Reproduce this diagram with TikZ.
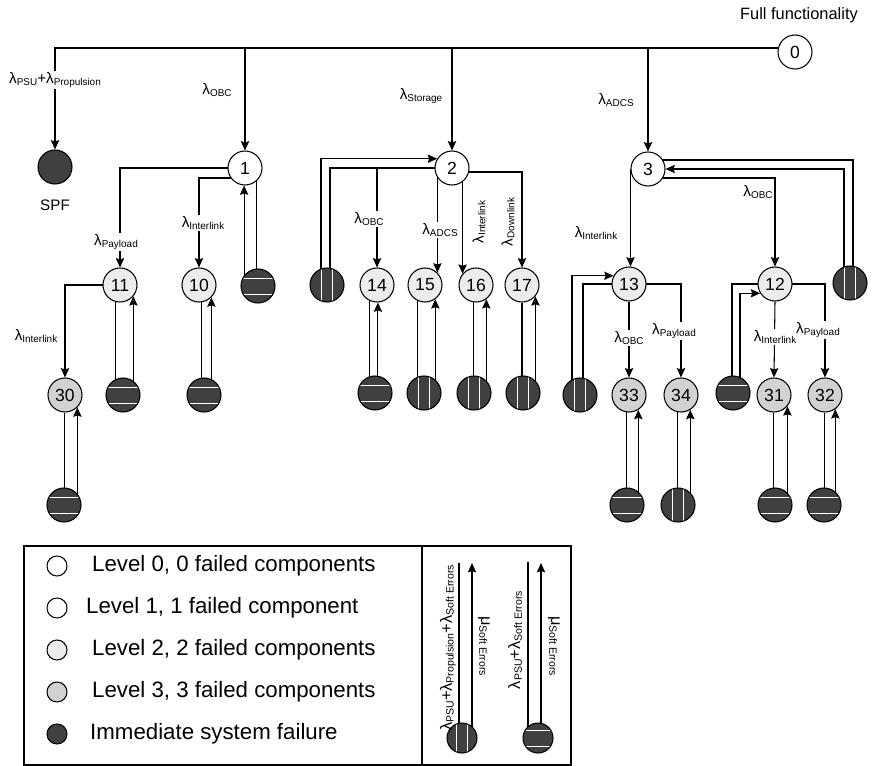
\documentclass[tikz,border=0pt]{standalone}
\usepackage{fontspec}
\setmainfont{Liberation Sans}
\usetikzlibrary{arrows.meta,calc,backgrounds}

\newcommand{\lbd}[2][8.5]{λ\raisebox{-1.5pt}{\fontsize{#1}{#1}\selectfont #2}}
\newcommand{\mub}[2][9]{μ\raisebox{-1.5pt}{\fontsize{#1}{#1}\selectfont #2}}
% failure node below a state: plain line down, repair arrow up
\newcommand{\repair}[4]{%
  \draw[conn] (#1.#3) -- (#1.#3 |- #2.center);
  \draw[arr] (#1.#4 |- #2.center) -- (#1.#4);}

\tikzset{
  stnode/.style={circle, draw, line width=0.9pt, minimum size=1.02cm, inner sep=0pt,
    font=\fontsize{15}{15}\selectfont},
  lvl0/.style={stnode, fill=white},
  lvl2/.style={stnode, fill=gray!15},
  lvl3/.style={stnode, fill=gray!35},
  fail/.style={stnode, fill=black!75},
  hfail/.style={fail, path picture={
    \draw[white, line width=0.8pt]
      ([yshift=2.4mm]path picture bounding box.west) -- ([yshift=2.4mm]path picture bounding box.east)
      ([yshift=-2.4mm]path picture bounding box.west) -- ([yshift=-2.4mm]path picture bounding box.east);}},
  vfail/.style={fail, path picture={
    \draw[white, line width=0.8pt]
      ([xshift=-1.6mm]path picture bounding box.north) -- ([xshift=-1.6mm]path picture bounding box.south)
      ([xshift=1.6mm]path picture bounding box.north) -- ([xshift=1.6mm]path picture bounding box.south);}},
  conn/.style={line width=0.9pt},
  arr/.style={conn, -{Stealth[length=2.8mm, width=2.5mm, inset=0.4mm]}},
  lbl/.style={font=\fontsize{13}{13}\selectfont, inner sep=1pt},
  onlbl/.style={lbl, fill=white},
  leg/.style={font=\fontsize{19}{19}\selectfont, anchor=west, inner sep=0pt}
}

\begin{document}
\begin{tikzpicture}[x=0.03cm, y=-0.03cm]
  \useasboundingbox (0,0) rectangle (873,766);

  % Top states
  \node[lvl0] (n0) at (795,52) {0};
  \node[font=\fontsize{14}{14}\selectfont] (full) at (799,15) {Full functionality};
  \node[fail] (spf) at (55,167) {};
  \node[font=\fontsize{13}{13}\selectfont] (spft) at (55,205) {SPF};
  \node[lvl0] (n1) at (245,168) {1};
  \node[lvl0] (n2) at (452,168) {2};
  \node[lvl0] (n3) at (648,169) {3};
  \coordinate (bus) at ($(n0.center)+(0,-4)$);

  % Level 2 and level 3 states
  \foreach \n/\x/\y in {11/120/285, 10/199/285, 14/377/285, 15/425/285, 16/476/285,
                        17/522/285, 13/629/284, 12/775/284}
    \node[lvl2] (n\n) at (\x,\y) {\n};
  \foreach \n/\x/\y in {30/65/395, 33/629/395, 34/681/395, 31/774/395, 32/825/395}
    \node[lvl3] (n\n) at (\x,\y) {\n};

  % Failure states
  \foreach \n/\x/\y in {1/258/286, 11/123/395, 10/204/395, 30/64/505, 14/375/393,
                        12/733/393, 33/627/505, 31/775/505, 32/824/505}
    \node[hfail] (f\n) at (\x,\y) {};
  \foreach \n/\x/\y in {2/327/285, 15/424/393, 16/474/393, 17/523/393, 3/850/283,
                        13/580/395, 34/678/505}
    \node[vfail] (f\n) at (\x,\y) {};

  \begin{pgfonlayer}{background}
    % Failure transitions
    \draw[arr] (bus) -| (spf.north);
    \draw[arr] (n1 |- bus) -- (n1.north);
    \draw[arr] (n2 |- bus) -- (n2.north);
    \draw[arr] (n3 |- bus) -- (n3.north);

    \draw[arr] (n1.center) -| (n11.north);
    \draw[arr] ($(n1.center)+(0,10)$) -| (n10.north);
    \draw[arr] (n11.center) -| (n30.north);

    \draw[arr] ($(f2.center)+(-6,0)$) |- (n2.148);
    \draw[conn] (n2.center) -| ($(f2.center)+(3,0)$);
    \draw[arr] (n14 |- n2.center) -- (n14.north);
    \draw[arr] (n2.center -| n15.45) -- (n15.45);
    \draw[arr] (n2.center -| n16.140) -- (n16.140);
    \draw[arr] ($(n2.center)+(0,4)$) -| (n17.north);

    \draw[conn] ($(f3.center)+(3,0)$) |- ($(n3.center)+(0,-9)$);
    \draw[arr] ($(f3.center)+(-6,0)$) |- (n3.east);
    \draw[arr] ($(n3.center)+(0,9)$) -| (n12.north);
    \draw[arr] (n3.west) -- (n3.west |- n13.north);

    \draw[arr] ($(f13.center)+(-8,0)$) |- (n13.152);
    \draw[conn] ($(f13.center)+(3,0)$) |- (n13.center);
    \draw[arr] (n13.south) -- (n33.north);
    \draw[arr] (n13.center) -| (n34.north);

    \draw[conn] ($(f12.center)+(-1,0)$) |- (n12.center);
    \draw[arr] ($(f12.center)+(7,0)$) |- (n12.212);
    \draw[arr] (n12.south) -- (n31.north);
    \draw[arr] (n12.center) -| (n32.north);

    % Repair transitions
    \foreach \p/\f/\a/\b in {n1/f1/310/267, n11/f11/256/320, n10/f10/277/315,
        n30/f30/267/315, n14/f14/246/273, n15/f15/246/306, n16/f16/263/306,
        n17/f17/270/320, n33/f33/263/302, n34/f34/260/302, n31/f31/267/320,
        n32/f32/267/306}
      {\repair{\p}{\f}{\a}{\b}}
  \end{pgfonlayer}

  % Rate labels
  \node[onlbl] (lpsu) at (55,80) {\lbd{PSU}+\lbd{Propulsion}};
  \node[lbl] (lobc1) at (217,90) {\lbd{OBC}};
  \node[lbl] (lsto) at (421,96) {\lbd{Storage}};
  \node[lbl] (ladcs) at (616,100) {\lbd{ADCS}};
  \node[onlbl] (lpay11) at (116,242) {\lbd{Payload}};
  \node[onlbl] (lint10) at (203,223) {\lbd{Interlink}};
  \node[lbl] (lint30) at (36,336) {\lbd{Interlink}};
  \node[onlbl] (lobc14) at (369,219) {\lbd{OBC}};
  \node[onlbl] (ladcs15) at (440,230) {\lbd{ADCS}};
  \node[lbl, rotate=90] (lint16) at (479,222) {\lbd{Interlink}};
  \node[lbl, rotate=90] (ldown17) at (508,222) {\lbd{Downlink}};
  \node[lbl] (lint13) at (596,233) {\lbd{Interlink}};
  \node[lbl] (lobc12) at (758,192) {\lbd{OBC}};
  \node[onlbl] (lobc33) at (629,338) {\lbd{OBC}};
  \node[onlbl] (lpay34) at (674,331) {\lbd{Payload}};
  \node[onlbl] (lint31) at (775,337) {\lbd{Interlink}};
  \node[onlbl] (lpay32) at (818,330) {\lbd{Payload}};

  % Legend
  \draw[conn] (24,546) rectangle (571,765);
  \draw[conn] (422,546) -- (422,765);
  \node[lvl0, minimum size=0.6cm] (k0) at (57,566) {};
  \node[lvl0, minimum size=0.6cm] (k1) at (57,608) {};
  \node[lvl2, minimum size=0.6cm] (k2) at (57,650) {};
  \node[lvl3, minimum size=0.6cm] (k3) at (57,692) {};
  \node[fail, minimum size=0.6cm] (k4) at (57,734) {};
  \node[leg] (t0) at (92,566) {Level 0, 0 failed components};
  \node[leg] (t1) at (86,608) {Level 1, 1 failed component};
  \node[leg] (t2) at (92,650) {Level 2, 2 failed components};
  \node[leg] (t3) at (92,692) {Level 3, 3 failed components};
  \node[leg] (t4) at (90,734) {Immediate system failure};

  \node[vfail, minimum size=0.9cm] (kf1) at (462,738) {};
  \node[hfail, minimum size=0.9cm] (kf2) at (538,738) {};
  \coordinate (kt1a) at (459,563);
  \coordinate (kt1b) at (472,563);
  \coordinate (kt2a) at (528,562);
  \coordinate (kt2b) at (541,563);
  \begin{pgfonlayer}{background}
    \draw[conn] (kf1.center -| kt1a) -- (kt1a);
    \draw[arr] (kf1.center -| kt1b) -- (kt1b);
    \draw[conn] (kf2.center -| kt2a) -- (kt2a);
    \draw[arr] (kf2.center -| kt2b) -- (kt2b);
  \end{pgfonlayer}
  \node[lbl, rotate=90, font=\fontsize{14}{14}\selectfont] (kl1) at (448,648)
    {\lbd[9]{PSU}+\lbd[9]{Propulsion}+\lbd[9]{Soft Errors}};
  \node[lbl, rotate=-90, font=\fontsize{14}{14}\selectfont] (km1) at (484,646) {\mub{Soft Errors}};
  \node[lbl, rotate=90, font=\fontsize{14}{14}\selectfont] (kl2) at (515,640)
    {\lbd[9]{PSU}+\lbd[9]{Soft Errors}};
  \node[lbl, rotate=-90, font=\fontsize{14}{14}\selectfont] (km2) at (554,646) {\mub{Soft Errors}};
\end{tikzpicture}
\end{document}
